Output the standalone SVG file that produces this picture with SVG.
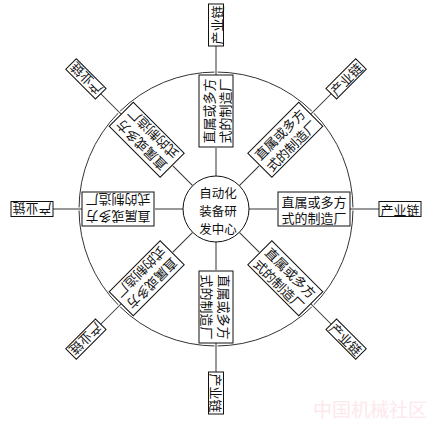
<svg xmlns="http://www.w3.org/2000/svg" width="435" height="426" viewBox="0 0 435 426">
<style>
text{font-family:"Noto Sans CJK SC","Liberation Sans",sans-serif;font-size:13px;fill:#111;text-anchor:middle;dominant-baseline:central}
.c{font-size:12.5px}
.box{fill:#fff;stroke:#111;stroke-width:1}
.ln{stroke:#333;stroke-width:1;fill:none}
.halo{stroke:#fff;stroke-width:3;fill:none}
.wm{font-size:19px;fill:#fde8ec;text-anchor:start;dominant-baseline:auto}
</style>
<defs>
<g id="spoke">
<line class="ln" x1="33" y1="0" x2="61" y2="0"/>
<line class="halo" x1="134" y1="0" x2="162" y2="0"/>
<line class="ln" x1="134" y1="0" x2="163" y2="0"/>
</g>
<g id="inner">
<rect class="box" x="-36" y="-17" width="72" height="34"/>
<text y="-8">直属或多方</text>
<text y="8.5">式的制造厂</text>
</g>
<g id="outer">
<rect class="box" x="-21" y="-7.5" width="42" height="15"/>
<text y="0">产业链</text>
</g>
</defs>
<circle class="ln" cx="216" cy="209" r="137"/>
<g id="connectors">
<use href="#spoke" transform="translate(216,209) rotate(0)"/>
<use href="#spoke" transform="translate(216,209) rotate(45)"/>
<use href="#spoke" transform="translate(216,209) rotate(90)"/>
<use href="#spoke" transform="translate(216,209) rotate(135)"/>
<use href="#spoke" transform="translate(216,209) rotate(180)"/>
<use href="#spoke" transform="translate(216,209) rotate(-135)"/>
<use href="#spoke" transform="translate(216,209) rotate(-90)"/>
<use href="#spoke" transform="translate(216,209) rotate(-45)"/>
</g>
<g id="center">
<circle class="box" cx="216" cy="209" r="33"/>
<text class="c" x="218" y="192">自动化</text>
<text class="c" x="218" y="210">装备研</text>
<text class="c" x="218" y="228">发中心</text>
</g>
<g id="inner-0"><use href="#inner" transform="translate(216,209) rotate(0) translate(98,0)"/></g>
<g id="inner-45"><use href="#inner" transform="translate(216,209) rotate(45) translate(98,0)"/></g>
<g id="inner-90"><use href="#inner" transform="translate(216,209) rotate(90) translate(98,0)"/></g>
<g id="inner-135"><use href="#inner" transform="translate(216,209) rotate(135) translate(98,0)"/></g>
<g id="inner-180"><use href="#inner" transform="translate(216,209) rotate(180) translate(98,0)"/></g>
<g id="inner-225"><use href="#inner" transform="translate(216,209) rotate(-135) translate(98,0)"/></g>
<g id="inner-270"><use href="#inner" transform="translate(216,209) rotate(-90) translate(98,0)"/></g>
<g id="inner-315"><use href="#inner" transform="translate(216,209) rotate(-45) translate(98,0)"/></g>
<g id="outer-0"><use href="#outer" transform="translate(216,209) rotate(0) translate(184,0)"/></g>
<g id="outer-45"><use href="#outer" transform="translate(216,209) rotate(45) translate(184,0)"/></g>
<g id="outer-90"><use href="#outer" transform="translate(216,209) rotate(90) translate(184,0)"/></g>
<g id="outer-135"><use href="#outer" transform="translate(216,209) rotate(135) translate(184,0)"/></g>
<g id="outer-180"><use href="#outer" transform="translate(216,209) rotate(180) translate(184,0)"/></g>
<g id="outer-225"><use href="#outer" transform="translate(216,209) rotate(-135) translate(184,0)"/></g>
<g id="outer-270"><use href="#outer" transform="translate(216,209) rotate(-90) translate(184,0)"/></g>
<g id="outer-315"><use href="#outer" transform="translate(216,209) rotate(-45) translate(184,0)"/></g>
<text class="wm" x="313" y="417">中国机械社区</text>
</svg>
